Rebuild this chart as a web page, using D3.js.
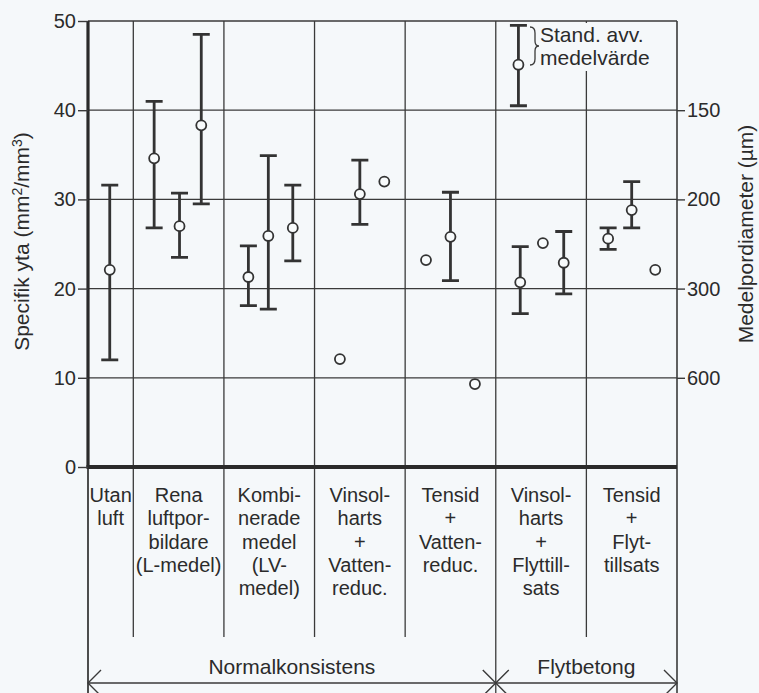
<!DOCTYPE html>
<html lang="sv">
<head>
<meta charset="UTF-8">
<script src="https://cdn.jsdelivr.net/npm/d3@7"></script>
<style>
  body { margin: 0; background: #f5f8fa; }
  svg text { font-family: "Liberation Sans", Arial, Helvetica, sans-serif; fill: #2b2b2b; }
</style>
<title>Specifik yta</title>
</head>
<body>
<script>
const w = 759;
const h = 693;

// chart data
const yTicks = [0, 10, 20, 30, 40, 50];
const diamTicks = [150, 200, 300, 600];
const categories = [
  ["Utan", "luft"],
  ["Rena", "luftpor-", "bildare", "(L-medel)"],
  ["Kombi-", "nerade", "medel", "(LV-", "medel)"],
  ["Vinsol-", "harts", "+", "Vatten-", "reduc."],
  ["Tensid", "+", "Vatten-", "reduc."],
  ["Vinsol-", "harts", "+", "Flyttill-", "sats"],
  ["Tensid", "+", "Flyt-", "tillsats"]
];
const catEdges = [0, 0.5, 1.5, 2.5, 3.5, 4.5, 5.5, 6.5];
const catCenters = [0.25, 1, 2, 3, 4, 5, 6];
const groupNames = ["Normalkonsistens", "Flytbetong"];
const groupEdges = [[0, 4.5], [4.5, 6.5]];

// points (x in category units), mean and standard deviation range
const xPos  = [0.24, 0.73, 1.01, 1.25, 1.77, 1.99, 2.26, 2.78, 3.0, 3.27, 3.73, 4.0, 4.27, 4.77, 5.02, 5.25, 5.74, 6.0, 6.26];
const means = [22.1, 34.6, 27.0, 38.3, 21.3, 25.9, 26.8, 12.1, 30.6, 32.0, 23.2, 25.8, 9.3, 20.7, 25.1, 22.9, 25.6, 28.8, 22.1];
const hi    = [31.6, 41.0, 30.7, 48.5, 24.8, 34.9, 31.6, null, 34.4, null, null, 30.8, null, 24.7, null, 26.4, 26.8, 32.0, null];
const lo    = [12.0, 26.8, 23.5, 29.5, 18.1, 17.7, 23.1, null, 27.2, null, null, 20.9, null, 17.2, null, 19.4, 24.4, 26.8, null];

// legend sample
const legendX = 4.75;
const legendVals = { hi: 49.5, mean: 45.1, lo: 40.5 };
const legendText = ["Stand. avv.", "medelvärde"];

const mLeft = 88, mRight = 677, mTop = 21, mBottom = 467;
const lineCol = "#3a3a3a";

const x = d3.scaleLinear().domain([0, 6.5]).range([mLeft, mRight]);
const y = d3.scaleLinear().domain([0, 50]).range([mBottom, mTop]);

const svg = d3.select("body").append("svg")
  .attr("width", w)
  .attr("height", h);

svg.append("rect").attr("width", w).attr("height", h).attr("fill", "#f5f8fa");

// horizontal grid
svg.append("g")
  .selectAll("line")
  .data(yTicks.filter(d => d > 0))
  .enter()
  .append("line")
  .attr("x1", mLeft).attr("x2", mRight)
  .attr("y1", d => y(d)).attr("y2", d => y(d))
  .attr("stroke", lineCol)
  .attr("stroke-width", d => d === 50 ? 1.6 : 1.2);

// vertical dividers (inside plot and down through labels)
svg.append("g")
  .selectAll("line")
  .data(catEdges.slice(1, -1))
  .enter()
  .append("line")
  .attr("x1", d => x(d)).attr("x2", d => x(d))
  .attr("y1", mTop)
  .attr("y2", d => d === 4.5 ? h : 637)
  .attr("stroke", lineCol)
  .attr("stroke-width", 1.3);

// right border
svg.append("line")
  .attr("x1", mRight).attr("x2", mRight)
  .attr("y1", mTop).attr("y2", h)
  .attr("stroke", lineCol).attr("stroke-width", 1.6);

// left axis line, thick in plot, thinner below
svg.append("line")
  .attr("x1", mLeft).attr("x2", mLeft)
  .attr("y1", mTop).attr("y2", mBottom)
  .attr("stroke", "#2a2a2a").attr("stroke-width", 3.2);
svg.append("line")
  .attr("x1", mLeft).attr("x2", mLeft)
  .attr("y1", mBottom).attr("y2", h)
  .attr("stroke", lineCol).attr("stroke-width", 1.8);

// bottom axis line
svg.append("line")
  .attr("x1", mLeft - 1.5).attr("x2", mRight)
  .attr("y1", y(0)).attr("y2", y(0))
  .attr("stroke", "#2a2a2a").attr("stroke-width", 4);

// left axis
const yAxis = d3.axisLeft(y).tickValues(yTicks).tickSize(10).tickPadding(2);
const gy = svg.append("g")
  .attr("transform", "translate(" + mLeft + ",0)")
  .call(yAxis);
gy.select(".domain").remove();
gy.selectAll(".tick line").attr("stroke", lineCol).attr("stroke-width", 1.4);
gy.selectAll(".tick text").style("font-size", "20px").attr("fill", "#2b2b2b");

// right axis (mean pore diameter = 6000 / specific surface)
const rAxis = d3.axisRight(y)
  .tickValues(diamTicks.map(d => 6000 / d))
  .tickFormat(v => Math.round(6000 / v))
  .tickSize(8).tickPadding(2);
const gr = svg.append("g")
  .attr("transform", "translate(" + mRight + ",0)")
  .call(rAxis);
gr.select(".domain").remove();
gr.selectAll(".tick line").attr("stroke", lineCol).attr("stroke-width", 1.4);
gr.selectAll(".tick text").style("font-size", "20px").attr("fill", "#2b2b2b");

// axis titles
const yt = svg.append("text")
  .attr("transform", "translate(29,241.5) rotate(-90)")
  .attr("text-anchor", "middle")
  .style("font-size", "21px");
yt.append("tspan").text("Specifik yta (mm");
yt.append("tspan").attr("dy", -7).style("font-size", "14px").text("2");
yt.append("tspan").attr("dy", 7).text("/mm");
yt.append("tspan").attr("dy", -7).style("font-size", "14px").text("3");
yt.append("tspan").attr("dy", 7).text(")");

svg.append("text")
  .attr("transform", "translate(753,234) rotate(-90)")
  .attr("text-anchor", "middle")
  .style("font-size", "21px")
  .text("Medelpordiameter (µm)");

// category labels
const catG = svg.append("g")
  .selectAll("text")
  .data(categories)
  .enter()
  .append("text")
  .attr("text-anchor", "middle")
  .style("font-size", "20px");
catG.selectAll("tspan")
  .data((d, i) => d.map(t => ({ t: t, i: i })))
  .enter()
  .append("tspan")
  .attr("x", d => x(catCenters[d.i]))
  .attr("y", (d, j) => 502 + j * 23.3)
  .text(d => d.t);

// group arrows and names
const arrowY = 683;
groupEdges.forEach((g, k) => {
  const x0 = x(g[0]), x1 = x(g[1]);
  svg.append("line")
    .attr("x1", x0).attr("x2", x1)
    .attr("y1", arrowY).attr("y2", arrowY)
    .attr("stroke", lineCol).attr("stroke-width", 1.4);
  svg.append("path")
    .attr("d", `M${x0 + 13},${arrowY - 13}L${x0},${arrowY}L${x0 + 13},${arrowY + 13}`
      + `M${x1 - 13},${arrowY - 13}L${x1},${arrowY}L${x1 - 13},${arrowY + 13}`)
    .attr("fill", "none").attr("stroke", lineCol).attr("stroke-width", 1.4);
  svg.append("text")
    .attr("x", (x0 + x1) / 2)
    .attr("y", 674)
    .attr("text-anchor", "middle")
    .style("font-size", "21px")
    .text(groupNames[k]);
});

// legend
svg.append("rect")
  .attr("x", 537).attr("y", mTop + 2)
  .attr("width", 122).attr("height", 48)
  .attr("fill", "#f5f8fa");
svg.append("text")
  .attr("x", 540).attr("y", 42)
  .style("font-size", "21px")
  .text(legendText[0]);
svg.append("text")
  .attr("x", 540).attr("y", 65)
  .style("font-size", "21px")
  .text(legendText[1]);
svg.append("path")
  .attr("d", "M530,27 Q535,27 535,33 L535,41 Q535,46 539,46 Q535,46 535,51 L535,59 Q535,65 530,65")
  .attr("fill", "none").attr("stroke", lineCol).attr("stroke-width", 1.3);

const errData = xPos.map((p, i) => ({ x: p, m: means[i], hi: hi[i], lo: lo[i] }));
errData.push({ x: legendX, m: legendVals.mean, hi: legendVals.hi, lo: legendVals.lo });

const bars = errData.filter(d => d.hi !== null);
const capW = 8.5;

svg.append("g")
  .selectAll("path")
  .data(bars)
  .enter()
  .append("path")
  .attr("d", d => {
    const cx = x(d.x), yh = y(d.hi), yl = y(d.lo);
    return `M${cx},${yh}L${cx},${yl}M${cx - capW},${yh}L${cx + capW},${yh}M${cx - capW},${yl}L${cx + capW},${yl}`;
  })
  .attr("fill", "none")
  .attr("stroke", "#333")
  .attr("stroke-width", 2.8);

svg.append("g")
  .selectAll("circle")
  .data(errData)
  .enter()
  .append("circle")
  .attr("cx", d => x(d.x))
  .attr("cy", d => y(d.m))
  .attr("r", 5)
  .attr("fill", "#f8fbfc")
  .attr("stroke", "#333")
  .attr("stroke-width", 1.8);
</script>
</body>
</html>
